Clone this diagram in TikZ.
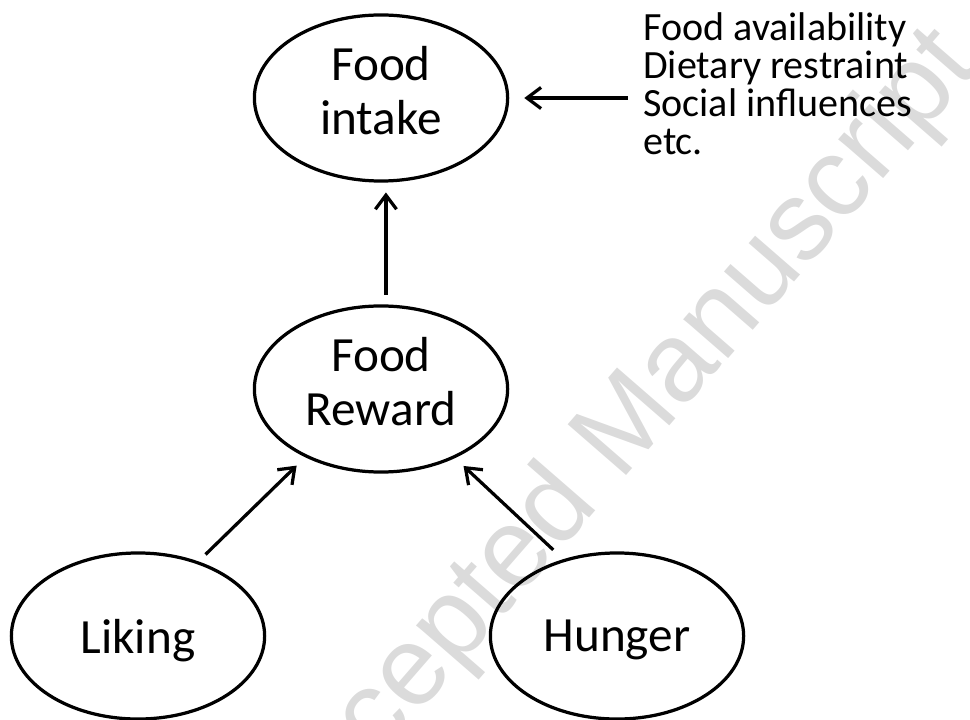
\documentclass[tikz,border=0pt]{standalone}
\usepackage{fontspec}
\setmainfont{Carlito}
\newfontfamily\stampfont{Liberation Sans}
\usetikzlibrary{shapes.geometric,arrows.meta}

\begin{document}
\begin{tikzpicture}[
    x=0.025cm, y=-0.025cm,
    blob/.style={ellipse, draw, line width=2.3pt, inner sep=0pt,
        minimum width=6.33cm, minimum height=4.15cm, align=center,
        font=\fontsize{35}{38.4}\selectfont},
    arr/.style={-{Straight Barb[length=10pt,width=15pt]}, line width=2.3pt},
    stamp/.style={text=black!14, font=\stampfont\fontsize{80}{80}\selectfont}
]
\useasboundingbox (0,0) rectangle (970,720);

% Watermark
\begin{scope}
\clip (0,0) rectangle (970,720);
\node[stamp, rotate=49] (wm) at (615,444) {Accepted Manuscript};
\end{scope}

% Ellipses
\node[blob, text depth=10.5pt] (intake) at (381,98) {Food\\intake};
\node[blob, text depth=10.5pt] (reward) at (381,389) {Food\\Reward};
\node[blob, text depth=0pt] (liking) at (138,636) {Liking};
\node[blob, text depth=0pt] (hunger) at (617,636) {Hunger};

% Other factors
\node[anchor=north west, inner sep=0pt, align=left,
    font=\fontsize{28.5}{27}\selectfont] (factors) at (643,12)
    {Food availability\\Dietary restraint\\Social influences\\etc.};

% Edges
\draw[arr, shorten <=7pt, shorten >=8.5pt] (liking.51) -- (reward.222);
\draw[arr, shorten <=9.7pt, shorten >=8.2pt] (hunger.125) -- (reward.317);
\draw[arr, shorten <=7pt, shorten >=7pt] ([xshift=3.5pt]reward.north) -- ([xshift=3.5pt]intake.south);
\draw[arr, shorten <=10.7pt, shorten >=10.7pt] (factors.west |- intake.east) -- (intake.east);

\end{tikzpicture}
\end{document}
